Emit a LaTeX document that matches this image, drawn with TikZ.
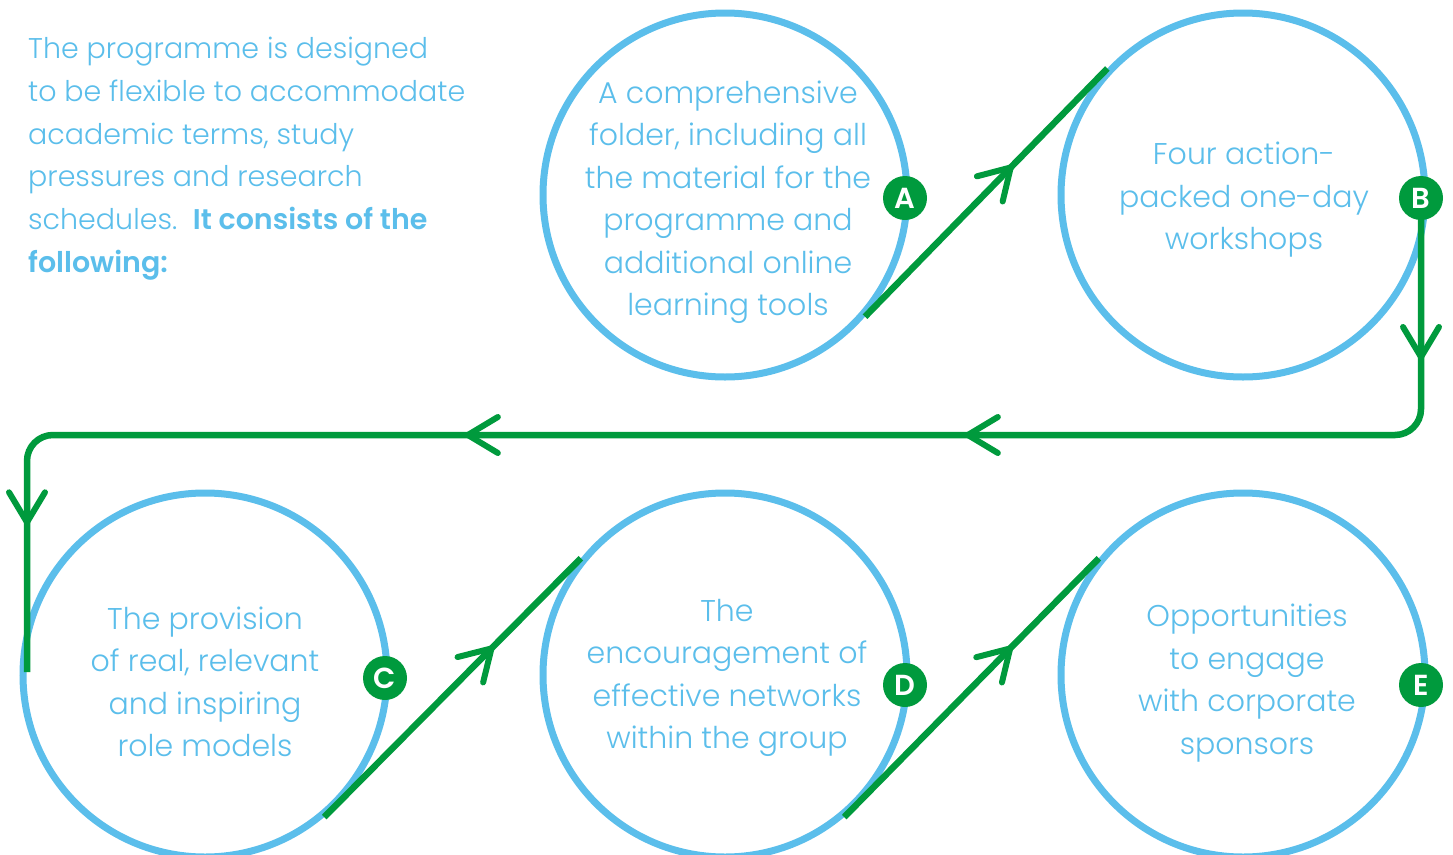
\documentclass[tikz,border=0pt]{standalone}
\usepackage{fontspec}
\setmainfont{Poppins}[UprightFont=* Light, BoldFont=* SemiBold]
\usetikzlibrary{arrows.meta,decorations.markings}
\definecolor{skyb}{RGB}{91,190,235}
\definecolor{grn}{RGB}{0,154,61}
\tikzset{
  barb/.tip={Straight Barb[length=30pt,width=36pt,line width=6pt,round]},
}
\begin{document}
\begin{tikzpicture}[x=1pt,y=-1pt,
  ring/.style={circle,draw=skyb,line width=7pt,minimum size=364pt,inner sep=0pt},
  ctext/.style={text=skyb,align=center,font=\fontsize{30}{42.5}\selectfont,inner sep=0pt},
  badge/.style={circle,fill=grn,minimum size=44pt,inner sep=0pt,text=white,font=\bfseries\fontsize{29}{29}\selectfont},
  flow/.style={draw=grn,line width=6.5pt},
]
\useasboundingbox (0,0) rectangle (1453,854);
\fill[white] (0,0) rectangle (1453,854);

\node[ring] (cA) at (725,195) {};
\node[ring] (cB) at (1243,195) {};
\node[ring] (cC) at (205,675) {};
\node[ring] (cD) at (725,675) {};
\node[ring] (cE) at (1243,675) {};

\node[ctext] (tA) at (728,202) {A comprehensive\\folder, including all\\the material for the\\programme and\\additional online\\learning tools};
\node[ctext] (tB) at (1244,200) {Four action-\\packed one-day\\workshops};
\node[ctext] (tC) at (205,682) {The provision\\of real, relevant\\and inspiring\\role models};
\node[ctext] (tD) at (727,678) {The\\encouragement of\\effective networks\\within the group};
\node[ctext] (tE) at (1247,683) {Opportunities\\to engage\\with corporate\\sponsors};

\node[text=skyb,align=left,anchor=north west,inner sep=0pt,font=\fontsize{28.5}{42.7}\selectfont] (cap) at (28,37)
 {The programme is designed\\to be flexible to accommodate\\academic terms, study\\pressures and research\\schedules.\ \ \textbf{It consists of the}\\\textbf{following:}};

\coordinate (r1) at (1421,435);
\coordinate (l1) at (27,435);
\coordinate (l2) at (27,672);
\coordinate (b0) at (1421,198);

\draw[flow,postaction={decorate},decoration={markings,mark=at position 0.61 with {\arrow{barb}}}]
  (cA.-41.5) -- (cB.137);
\draw[flow,rounded corners=26pt,postaction={decorate},decoration={markings,
   mark=at position 162pt with {\arrow{barb}},
   mark=at position 682pt with {\arrow{barb}},
   mark=at position 1182pt with {\arrow{barb}},
   mark=at position 1699pt with {\arrow{barb}}}]
  (b0) -- (r1) -- (l1) -- (l2);
\draw[flow,postaction={decorate},decoration={markings,mark=at position 0.66 with {\arrow{barb}}}]
  (cC.-50.5) -- (cD.141);
\draw[flow,postaction={decorate},decoration={markings,mark=at position 0.66 with {\arrow{barb}}}]
  (cD.-50) -- (cE.141.7);

\node[badge] (bA) at (905,198) {A};
\node[badge] (bB) at (1421,198) {B};
\node[badge] (bC) at (385,678) {C};
\node[badge] (bD) at (905,685) {D};
\node[badge] (bE) at (1421,685) {E};
\end{tikzpicture}
\end{document}
